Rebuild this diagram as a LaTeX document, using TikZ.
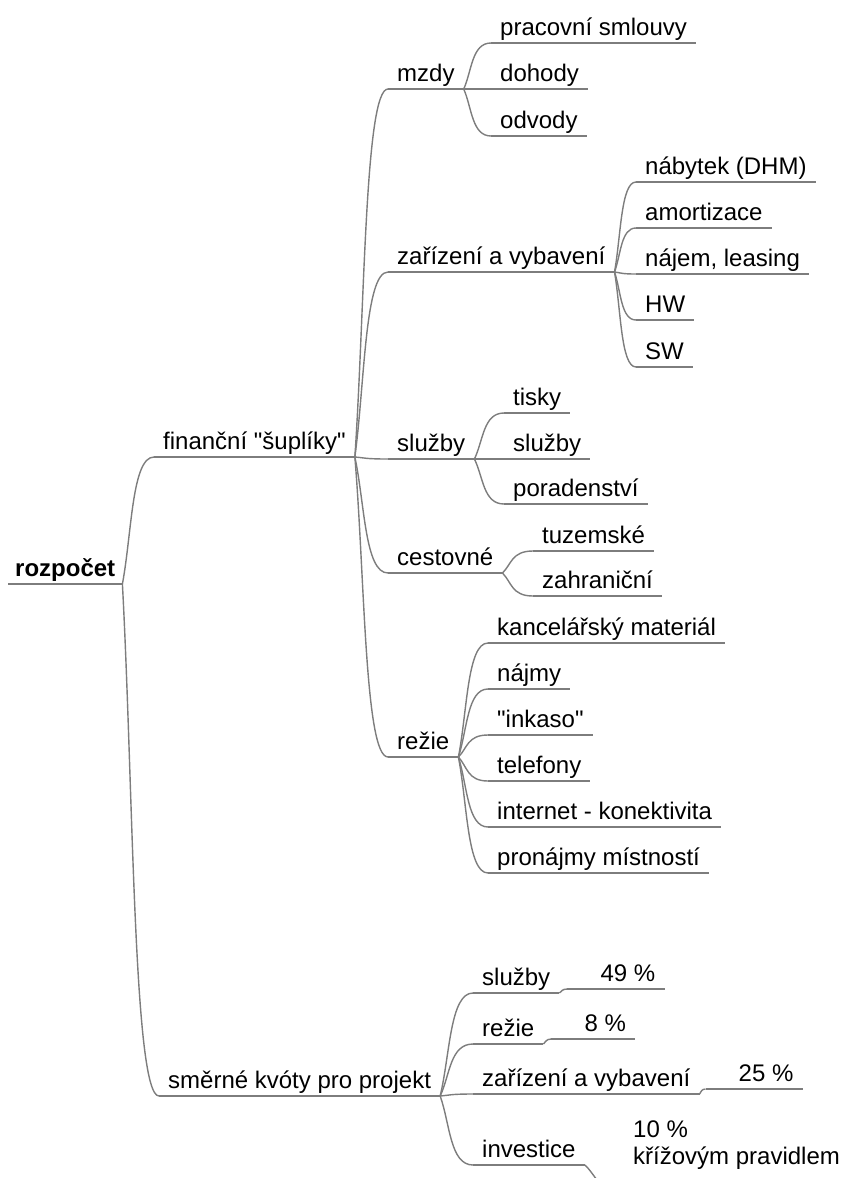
\documentclass[tikz,border=0pt]{standalone}
\usepackage{fontspec}
\setmainfont{Liberation Sans}[Ligatures=TeXOff]
\usetikzlibrary{positioning,calc}
\definecolor{branchgray}{RGB}{125,125,125}
\tikzstyle{topicline}=[draw=branchgray,line width=1.4pt,to path={-- (\tikztotarget)}]
\tikzstyle{topic}=[anchor=south west,inner xsep=9pt,inner ysep=1pt,
  text height=17pt,text depth=6pt,font=\fontsize{24}{27}\selectfont,
  append after command={(\tikzlastnode.south west) edge[topicline] (\tikzlastnode.south east)}]
\tikzstyle{quota}=[topic,execute at begin node={\hspace*{24pt}}]
\tikzstyle{branch}=[draw=branchgray,line width=1.4pt,
  to path={let \p1=(\tikztostart),\p2=(\tikztotarget) in
    .. controls ({\x1+0.3*(\x2-\x1)},{\y1+0.4*(\y2-\y1)})
       and ({\x1+0.3*(\x2-\x1)},\y2) .. (\tikztotarget)}]

\begin{document}
\begin{tikzpicture}[x=1pt,y=-1pt]
  \useasboundingbox (0,0) rectangle (844,1178);
  \clip (0,0) rectangle (844,1178);

  \node[topic,inner xsep=7pt,font=\fontsize{24}{27}\selectfont\bfseries] (root) at (8,584) {rozpočet};

  \node[topic] (fin) at (154,457) {finanční "šuplíky"};
  \node[topic] (kvoty) at (159,1096) {směrné kvóty pro projekt};

  % financni suplíky
  \node[topic] (mzdy) at (388,89) {mzdy};
  \node[topic] (zariz) at (388,272) {zařízení a vybavení};
  \node[topic] (sluzby) at (388,459) {služby};
  \node[topic] (cest) at (388,573) {cestovné};
  \node[topic] (rezie) at (388,757) {režie};

  \node[topic] (smlouvy) at (491,43) {pracovní smlouvy};
  \node[topic] (dohody) at (491,89) {dohody};
  \node[topic] (odvody) at (491,136) {odvody};

  \node[topic] (nabytek) at (636,182) {nábytek (DHM)};
  \node[topic] (amort) at (636,228) {amortizace};
  \node[topic] (najem) at (636,274) {nájem, leasing};
  \node[topic] (hw) at (636,320) {HW};
  \node[topic] (sw) at (636,367) {SW};

  \node[topic] (tisky) at (504,413) {tisky};
  \node[topic] (sluzbyb) at (504,459) {služby};
  \node[topic] (porad) at (504,504) {poradenství};

  \node[topic] (tuzem) at (533,551) {tuzemské};
  \node[topic] (zahr) at (533,596) {zahraniční};

  \node[topic] (kanc) at (488,643) {kancelářský materiál};
  \node[topic] (najmy) at (488,689) {nájmy};
  \node[topic] (inkaso) at (488,735) {"inkaso"};
  \node[topic] (telef) at (488,781) {telefony};
  \node[topic] (inet) at (488,827) {internet - konektivita};
  \node[topic] (pronaj) at (488,873) {pronájmy místností};

  % smerne kvoty
  \node[topic] (ksluzby) at (473,993) {služby};
  \node[topic] (krezie) at (473,1044) {režie};
  \node[topic] (kzariz) at (473,1094) {zařízení a vybavení};
  \node[topic] (kinv) at (473,1165) {investice};

  \node[quota,above right=4pt and 8pt of ksluzby.south east] (q49) {49 \%};
  \node[quota,above right=5pt and 8pt of krezie.south east] (q8) {8 \%};
  \node[quota,above right=5pt and 6pt of kzariz.south east] (q25) {25 \%};
  \node[topic,anchor=north west,align=left,text height={},text depth={},
    minimum height=90pt] (q10) at (624,1100) {10 \%\\křížovým pravidlem};

  \path (root.south east) edge[branch] (fin.south west) edge[branch] (kvoty.south west);
  \path (fin.south east) edge[branch] (mzdy.south west) edge[branch] (zariz.south west)
    edge[branch] (sluzby.south west) edge[branch] (cest.south west) edge[branch] (rezie.south west);
  \path (mzdy.south east) edge[branch] (smlouvy.south west) edge[branch] (dohody.south west)
    edge[branch] (odvody.south west);
  \path (zariz.south east) edge[branch] (nabytek.south west) edge[branch] (amort.south west)
    edge[branch] (najem.south west) edge[branch] (hw.south west) edge[branch] (sw.south west);
  \path (sluzby.south east) edge[branch] (tisky.south west) edge[branch] (sluzbyb.south west)
    edge[branch] (porad.south west);
  \path (cest.south east) edge[branch] (tuzem.south west) edge[branch] (zahr.south west);
  \path (rezie.south east) edge[branch] (kanc.south west) edge[branch] (najmy.south west)
    edge[branch] (inkaso.south west) edge[branch] (telef.south west)
    edge[branch] (inet.south west) edge[branch] (pronaj.south west);
  \path (kvoty.south east) edge[branch] (ksluzby.south west) edge[branch] (krezie.south west)
    edge[branch] (kzariz.south west) edge[branch] (kinv.south west);
  \path (ksluzby.south east) edge[branch] (q49.south west);
  \path (krezie.south east) edge[branch] (q8.south west);
  \path (kzariz.south east) edge[branch] (q25.south west);
  \path (kinv.south east) edge[branch] (q10.south west);
\end{tikzpicture}
\end{document}
